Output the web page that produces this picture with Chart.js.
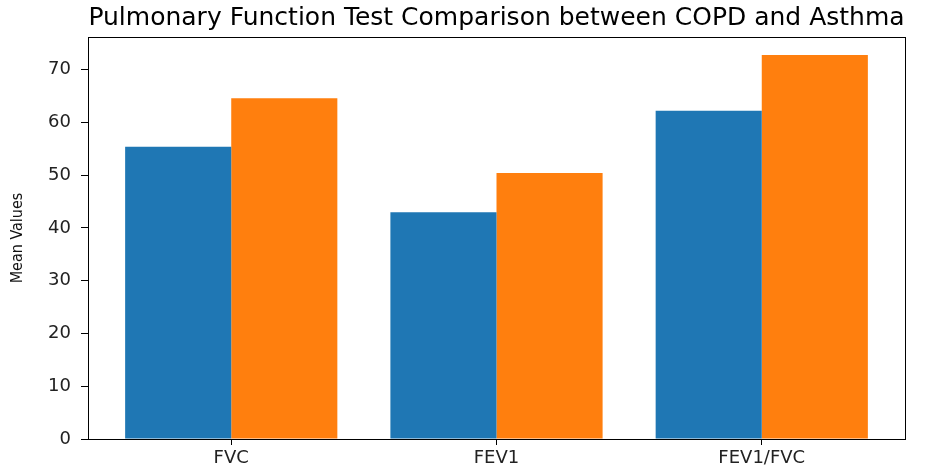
<!DOCTYPE html>
<html lang="en">
<head>
  <meta charset="UTF-8" />
  <title>Pulmonary Function Test Comparison</title>
  <script src="https://cdn.jsdelivr.net/npm/chart.js"></script>
  <style>
    html, body { margin: 0; padding: 0; background: #fff; }
    #wrap { width: 947px; height: 466px; }
  </style>
</head>
<body>
  <div id="wrap"><canvas id="pftChart"></canvas></div>

  <script>
    // data
    const categories = ["FVC", "FEV1", "FEV1/FVC"];
    const copdMeans = [55.4, 43.0, 62.2];
    const asthmaMeans = [64.6, 50.4, 72.8];
    const yTicks = [0, 10, 20, 30, 40, 50, 60, 70];

    // draws the full box round the plot, like matplotlib's spines
    const frame = {
      id: "frame",
      afterDraw(chart) {
        const a = chart.chartArea;
        const ctx = chart.ctx;
        ctx.save();
        ctx.strokeStyle = "#000";
        ctx.lineWidth = 1;
        ctx.strokeRect(Math.round(a.left) + 0.5, Math.round(a.top) + 0.5,
          Math.round(a.right - a.left), Math.round(a.bottom - a.top));
        ctx.restore();
      }
    };

    const ctx = document.getElementById("pftChart").getContext("2d");
    new Chart(ctx, {
      type: "bar",
      data: {
        datasets: [
          {
            label: "COPD",
            data: categories.map((c, i) => ({ x: i, y: copdMeans[i] })),
            backgroundColor: "#1f77b4",
            borderWidth: 0,
            categoryPercentage: 0.8,
            barPercentage: 1.0
          },
          {
            label: "Asthma",
            data: categories.map((c, i) => ({ x: i, y: asthmaMeans[i] })),
            backgroundColor: "#ff7f0e",
            borderWidth: 0,
            categoryPercentage: 0.8,
            barPercentage: 1.0
          }
        ]
      },
      options: {
        responsive: true,
        maintainAspectRatio: false,
        animation: false,
        layout: { padding: { left: 0, right: 42, top: 0, bottom: 0 } },
        plugins: {
          legend: { display: false },
          tooltip: { enabled: false },
          title: {
            display: true,
            fullSize: false,
            text: "Pulmonary Function Test Comparison between COPD and Asthma",
            color: "#000",
            font: { family: "DejaVu Sans", size: 25, weight: "normal" },
            padding: { top: 3, bottom: 4 }
          }
        },
        scales: {
          x: {
            type: "linear",
            min: -0.54,
            max: 2.54,
            offset: false,
            border: { display: false },
            grid: { offset: false, drawOnChartArea: false, drawTicks: true, tickLength: 6, color: "#000" },
            afterBuildTicks: s => { s.ticks = categories.map((c, i) => ({ value: i })); },
            afterFit: s => { s.height = 27; },
            ticks: {
              autoSkip: false,
              maxRotation: 0,
              padding: 3,
              color: "#222",
              font: { family: "DejaVu Sans", size: 18 },
              callback: v => categories[v]
            }
          },
          y: {
            min: 0,
            max: 76.2,
            border: { display: false },
            grid: { drawOnChartArea: false, drawTicks: true, tickLength: 7, color: "#000" },
            afterBuildTicks: s => { s.ticks = yTicks.map(v => ({ value: v })); },
            afterFit: s => { s.width = 88; },
            ticks: {
              padding: 10,
              color: "#222",
              font: { family: "DejaVu Sans", size: 18 }
            },
            title: {
              display: true,
              text: "Mean Values",
              color: "#111",
              font: { family: "'DejaVu Sans Condensed', 'Liberation Sans Narrow', sans-serif", size: 16 },
              padding: { top: 8, bottom: 0 }
            }
          }
        }
      },
      plugins: [frame]
    });
  </script>
</body>
</html>
